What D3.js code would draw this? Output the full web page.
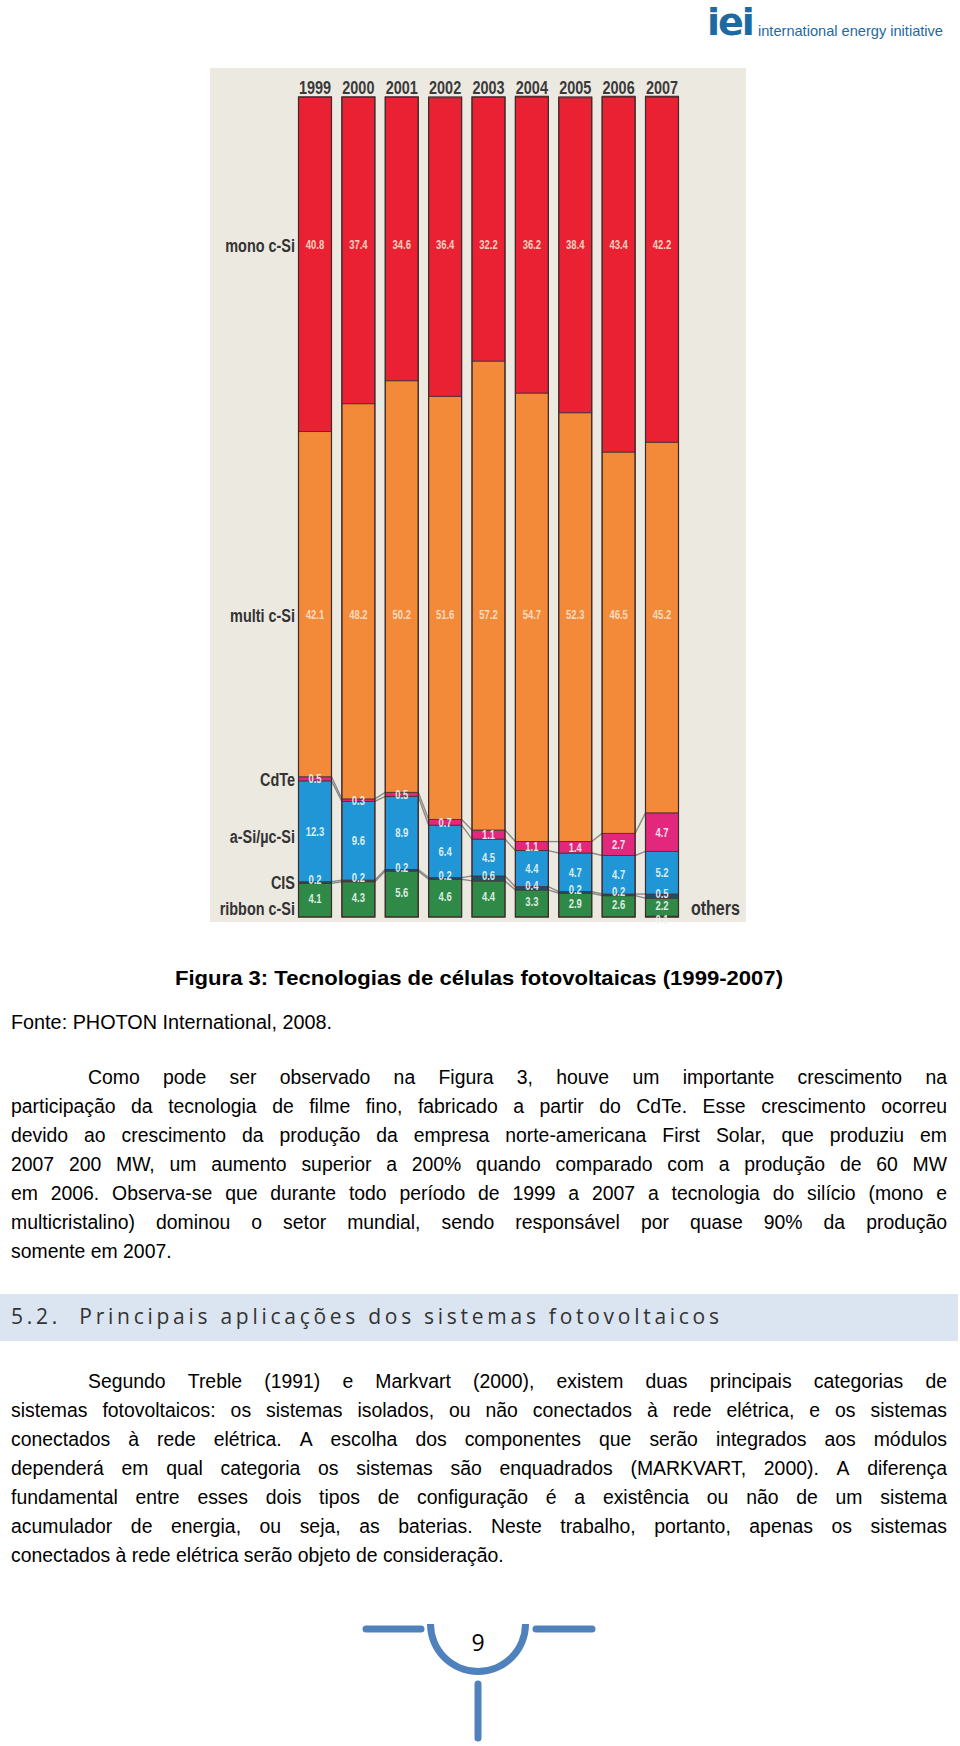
<!DOCTYPE html>
<html>
<head>
<meta charset="utf-8">
<script src="https://cdn.jsdelivr.net/npm/d3@7"></script>
<style>
  html, body { margin: 0; padding: 0; background: #ffffff; }
  svg { display: block; }
</style>
</head>
<body>
<svg id="page" width="960" height="1746"></svg>
<script>
// ---------------- DATA ----------------
const years = ["1999","2000","2001","2002","2003","2004","2005","2006","2007"];
const monoCSi   = [40.8, 37.4, 34.6, 36.4, 32.2, 36.2, 38.4, 43.4, 42.2];
const multiCSi  = [42.1, 48.2, 50.2, 51.6, 57.2, 54.7, 52.3, 46.5, 45.2];
const cdTe      = [0.5, 0.3, 0.5, 0.7, 1.1, 1.1, 1.4, 2.7, 4.7];
const aSiMuSi   = [12.3, 9.6, 8.9, 6.4, 4.5, 4.4, 4.7, 4.7, 5.2];
const cis       = [0.2, 0.2, 0.2, 0.2, 0.6, 0.4, 0.2, 0.2, 0.5];
const ribbonCSi = [4.1, 4.3, 5.6, 4.6, 4.4, 3.3, 2.9, 2.6, 2.2];
const others    = [0, 0, 0, 0, 0, 0, 0, 0, 0.1];

const seriesKeys   = ["others","ribbon","cis","asi","cdte","multi","mono"];   // bottom -> top
const seriesNames  = ["others","ribbon c-Si","CIS","a-Si/µc-Si","CdTe","multi c-Si","mono c-Si"];
const seriesValues = [others, ribbonCSi, cis, aSiMuSi, cdTe, multiCSi, monoCSi];

const captionText = "Figura 3: Tecnologias de células fotovoltaicas (1999-2007)";
const sourceText  = "Fonte: PHOTON International, 2008.";
const para1 = [
  "Como pode ser observado na Figura 3, houve um importante crescimento na",
  "participação da tecnologia de filme fino, fabricado a partir do CdTe. Esse crescimento ocorreu",
  "devido ao crescimento da produção da empresa norte-americana First Solar, que produziu em",
  "2007 200 MW, um aumento superior a 200% quando comparado com a produção de 60 MW",
  "em 2006. Observa-se que durante todo período de 1999 a 2007 a tecnologia do silício (mono e",
  "multicristalino) dominou o setor mundial, sendo responsável por quase 90% da produção",
  "somente em 2007."
];
const headingText = "5.2.  Principais aplicações dos sistemas fotovoltaicos";
const para2 = [
  "Segundo Treble (1991) e Markvart (2000), existem duas principais categorias de",
  "sistemas fotovoltaicos: os sistemas isolados, ou não conectados à rede elétrica, e os sistemas",
  "conectados à rede elétrica. A escolha dos componentes que serão integrados aos módulos",
  "dependerá em qual categoria os sistemas são enquadrados (MARKVART, 2000). A diferença",
  "fundamental entre esses dois tipos de configuração é a existência ou não de um sistema",
  "acumulador de energia, ou seja, as baterias. Neste trabalho, portanto, apenas os sistemas",
  "conectados à rede elétrica serão objeto de consideração."
];
const pageNumber = "9";

// ---------------- STYLE ----------------
const colors = {
  others: "#4f7a52", ribbon: "#2f8a47", cis: "#1d4f6a", asi: "#2196d6",
  cdte: "#e3277d", multi: "#f28a3a", mono: "#ea2033"
};
const body = "'Liberation Sans',Arial,sans-serif";

const svg = d3.select("#page");

// compress text horizontally (about its anchor point) to imitate a condensed face
function condense(sel, factor) {
  sel.each(function() {
    const t = d3.select(this);
    const tx = +t.attr("x"), ty = +t.attr("y");
    t.attr("transform", `translate(${tx},${ty}) scale(${factor},1) translate(${-tx},${-ty})`);
  });
  return sel;
}

// ---------------- LOGO ----------------
const logo = svg.append("g");
const logoBlue = "#1c6aa3";
logo.append("text").attr("x", 707).attr("y", 35)
  .attr("font-family", "'DejaVu Sans',sans-serif").attr("font-weight", 900)
  .attr("font-size", 38).attr("letter-spacing", -2).attr("fill", logoBlue).text("iei");
logo.append("text").attr("x", 758).attr("y", 36)
  .attr("font-family", body).attr("font-size", 14.6).attr("fill", logoBlue)
  .text("international energy initiative");

// ---------------- CHART PANEL ----------------
const panel = {x0: 210, x1: 746, y0: 68, y1: 922};
svg.append("rect").attr("x", panel.x0).attr("y", panel.y0)
  .attr("width", panel.x1 - panel.x0).attr("height", panel.y1 - panel.y0)
  .attr("fill", "#ece9e1");

const barW = 33;
const x = d3.scalePoint().domain(years).range([315, 662]);
const y = d3.scaleLinear().domain([0, 100]).range([917, 97]);

const rows = years.map((yr, i) => {
  const o = {year: yr};
  seriesKeys.forEach((k, j) => o[k] = seriesValues[j][i]);
  return o;
});
const stack = d3.stack().keys(seriesKeys)(rows);

// connector lines between bar boundaries (lower thin-film layers)
const connectorLayers = ["ribbon","cis","asi","cdte"];
const gConn = svg.append("g");
stack.filter(s => connectorLayers.includes(s.key)).forEach(s => {
  for (let i = 0; i < years.length - 1; i++) {
    const a = s[i], b = s[i + 1];
    gConn.append("line")
      .attr("x1", x(years[i]) + barW / 2).attr("y1", y(a[1]))
      .attr("x2", x(years[i + 1]) - barW / 2).attr("y2", y(b[1]))
      .attr("stroke", "#8c8a86").attr("stroke-width", 1.4);
  }
});

// bars
const gBars = svg.append("g");
stack.forEach(s => {
  gBars.selectAll(null).data(s).join("rect")
    .attr("x", d => x(d.data.year) - barW / 2)
    .attr("y", d => y(d[1]))
    .attr("width", barW)
    .attr("height", d => Math.max(0, y(d[0]) - y(d[1])))
    .attr("fill", colors[s.key])
    .attr("stroke", "#4a3434").attr("stroke-width", 0.9);
});
gBars.selectAll(null).data(years).join("rect")
  .attr("x", d => x(d) - barW / 2).attr("y", y(100))
  .attr("width", barW).attr("height", y(0) - y(100))
  .attr("fill", "none").attr("stroke", "#3e2a2a").attr("stroke-width", 1.2);

// year labels
condense(svg.append("g").selectAll("text").data(years).join("text")
  .attr("x", d => x(d)).attr("y", 94)
  .attr("text-anchor", "middle")
  .attr("font-family", body).attr("font-size", 19).attr("font-weight", "bold")
  .attr("fill", "#3a3a3a").text(d => d), 0.76);

// value labels
const rowLabelY = {mono: 245, multi: 615};
const labelShift = {others: 3, ribbon: -2, cis: -3};
const gVal = svg.append("g").attr("font-family", body).attr("font-size", 12.5)
  .attr("font-weight", "bold").attr("text-anchor", "middle");
stack.forEach(s => {
  condense(gVal.selectAll(null).data(s.filter(d => d.data[s.key] > 0)).join("text")
    .attr("x", d => x(d.data.year))
    .attr("y", d => {
      if (rowLabelY[s.key] !== undefined) return rowLabelY[s.key];
      const mid = (y(d[0]) + y(d[1])) / 2;
      return mid + (labelShift[s.key] || 0);
    })
    .attr("dy", "0.36em")
    .attr("fill", (s.key === "mono" || s.key === "multi") ? "#fbe3cf" : "#eef6f4")
    .attr("fill-opacity", 0.92)
    .text(d => d3.format(".1f")(d.data[s.key])), 0.76);
});

// row labels at left
const rowLabels = [
  {key: "mono", name: "mono c-Si", y: 245},
  {key: "multi", name: "multi c-Si", y: 615},
  {key: "cdte", name: "CdTe", y: 779},
  {key: "asi", name: "a-Si/µc-Si", y: 836},
  {key: "cis", name: "CIS", y: 882},
  {key: "ribbon", name: "ribbon c-Si", y: 908}
];
condense(svg.append("g").selectAll("text").data(rowLabels).join("text")
  .attr("x", 295).attr("y", d => d.y).attr("dy", "0.36em")
  .attr("text-anchor", "end")
  .attr("font-family", body).attr("font-size", 19).attr("font-weight", "bold")
  .attr("fill", "#333").text(d => d.name), 0.76);
condense(svg.append("text").attr("x", 691).attr("y", 908).attr("dy", "0.36em")
  .attr("font-family", body).attr("font-size", 20).attr("font-weight", "bold")
  .attr("fill", "#333").text(seriesNames[0]), 0.8);

// ---------------- CAPTION / SOURCE ----------------
svg.append("text").attr("x", 175).attr("y", 985)
  .attr("font-family", body).attr("font-weight", "bold").attr("font-size", 21)
  .attr("textLength", 608).attr("lengthAdjust", "spacingAndGlyphs")
  .attr("fill", "#000").text(captionText);
svg.append("text").attr("x", 11).attr("y", 1029)
  .attr("font-family", body).attr("font-size", 19.5)
  .attr("textLength", 321).attr("lengthAdjust", "spacingAndGlyphs")
  .attr("fill", "#000").text(sourceText);

// ---------------- JUSTIFIED PARAGRAPHS ----------------
const fontSize = 19.4;
function paragraph(lines, firstY, lineH, indent) {
  const g = svg.append("g").attr("font-family", body).attr("font-size", fontSize).attr("fill", "#000");
  lines.forEach((line, li) => {
    const x0 = li === 0 ? 11 + indent : 11;
    const x1 = 947;
    const yy = firstY + li * lineH;
    const last = li === lines.length - 1;
    const t = g.append("text").attr("y", yy);
    if (last) { t.attr("x", x0).text(line); return; }
    const words = line.split(" ");
    const spans = words.map(w => t.append("tspan").text(w));
    const widths = spans.map(s => s.node().getComputedTextLength());
    const total = d3.sum(widths);
    const gap = (x1 - x0 - total) / (words.length - 1);
    let cx = x0;
    spans.forEach((s, i) => { s.attr("x", cx); cx += widths[i] + gap; });
  });
}
paragraph(para1, 1084, 29, 77);

// section heading band
svg.append("rect").attr("x", 0).attr("y", 1294).attr("width", 958).attr("height", 47).attr("fill", "#dbe5f1");
svg.append("text").attr("x", 11).attr("y", 1324)
  .attr("font-family", "'Open Sans','DejaVu Sans',sans-serif").attr("font-size", 21)
  .attr("textLength", 708).attr("lengthAdjust", "spacing")
  .attr("fill", "#333").attr("xml:space", "preserve").text(headingText);

paragraph(para2, 1388, 29, 77);

// ---------------- FOOTER ORNAMENT ----------------
const blue = "#4f81bd";
const foot = svg.append("g").attr("stroke", blue).attr("stroke-width", 7).attr("stroke-linecap", "round").attr("fill", "none");
foot.append("line").attr("x1", 366).attr("y1", 1629).attr("x2", 421).attr("y2", 1629);
foot.append("line").attr("x1", 536).attr("y1", 1629).attr("x2", 592).attr("y2", 1629);
foot.append("line").attr("x1", 478).attr("y1", 1684).attr("x2", 478).attr("y2", 1738);
const arc = d3.arc().innerRadius(44).outerRadius(51).startAngle(Math.PI / 2).endAngle(Math.PI * 1.5);
svg.append("path").attr("d", arc()).attr("transform", "translate(478,1624)").attr("fill", blue);
svg.append("text").attr("x", 478).attr("y", 1651).attr("text-anchor", "middle")
  .attr("font-family", "'Open Sans',sans-serif").attr("font-size", 23).attr("fill", "#000").text(pageNumber);
</script>
</body>
</html>
